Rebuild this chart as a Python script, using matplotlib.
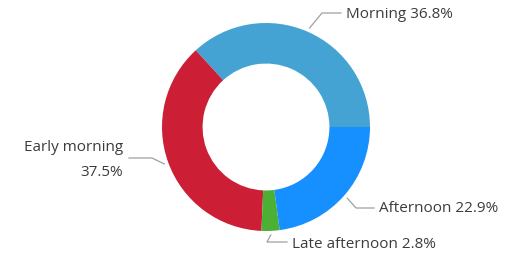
import numpy as np
import matplotlib
matplotlib.use("Agg")
import matplotlib.pyplot as plt

# %% Data

labels = ['Morning', 'Early morning', 'Late afternoon', 'Afternoon']
shares = [36.8, 37.5, 2.8, 22.9]
colours = ['#45a3d3', '#cc1e35', '#4cb034', '#168fff']

# %% Layout (pixels)

W, H = 511, 259
cx, cy, R = 266, 127, 104

def to_data(px, py):
    return (px - cx) / R, (cy - py) / R

fig = plt.figure(figsize=(W / 100, H / 100), dpi=100)
fig.set_facecolor('white')
ax = fig.add_axes([(cx - R) / W, (H - cy - R) / H, 2 * R / W, 2 * R / H])

wedges, _ = ax.pie(shares, colors=colours, startangle=0, counterclock=True,
                   radius=1, wedgeprops=dict(width=0.39, edgecolor='none'))
ax.set_xlim(-1, 1)
ax.set_ylim(-1, 1)
ax.set_aspect('equal')
ax.axis('off')

# label elbow / text positions in pixels: (elbow x, elbow y, end x, text x, text y, ha)
label_layout = [
    (322, 13, 341, 346, 15, 'left'),
    (152, 158, 129, 123, 160, 'right'),
    (267, 242, 287, 292, 244, 'left'),
    (356, 208, 374, 379, 209, 'left'),
]

for w, lab, val, lay in zip(wedges, labels, shares, label_layout):
    mid = np.deg2rad((w.theta1 + w.theta2) / 2)
    sx, sy = 1.04 * np.cos(mid), 1.04 * np.sin(mid)
    ex, ey = to_data(lay[0], lay[1])
    hx, _ = to_data(lay[2], lay[1])
    ax.plot([sx, ex, hx], [sy, ey, ey], color='#a0a0a0', lw=0.9, clip_on=False)
    tx, ty = to_data(lay[3], lay[4])
    if lab == 'Early morning':
        txt = f"{lab}\n{val}%"
    else:
        txt = f"{lab} {val}%"
    ax.text(tx, ty, txt, ha=lay[5], va='center', fontsize=11, color='#3c3c3c',
            family='Open Sans', linespacing=1.95, clip_on=False)

plt.savefig('out.png', dpi=100)
